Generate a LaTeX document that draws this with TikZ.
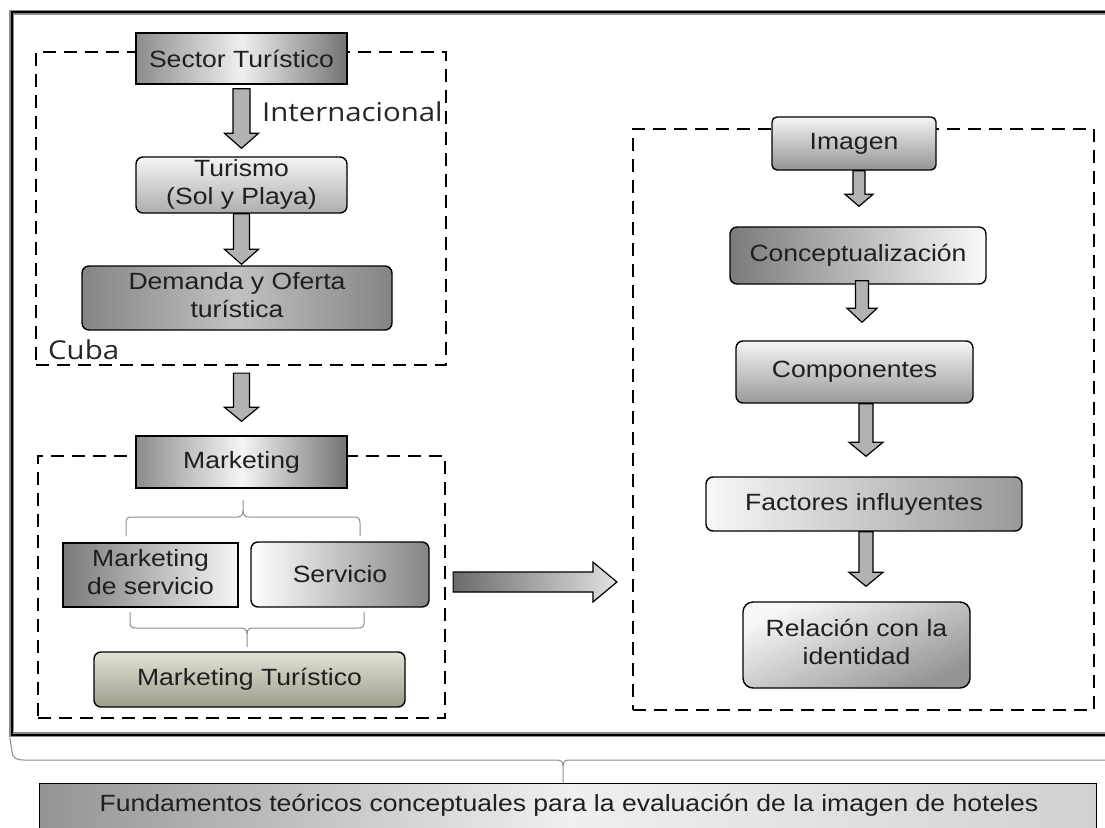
\documentclass[tikz,border=0pt]{standalone}
\usepackage{fontspec}
\setmainfont{Liberation Sans}
\newfontfamily\osans{Open Sans}
\usepackage{graphicx}
\usetikzlibrary{calc}
\newcommand{\wt}[1]{\scalebox{1.13}[1]{#1}}
\newcommand{\wtt}[2]{\scalebox{1.13}[1]{\begin{tabular}{@{}c@{}}#1\\#2\end{tabular}}}
\newcommand{\varrow}[5]{%
  \draw[barrow] let \p1=(#1), \p2=(#2) in
    (\x1-#3pt,\y1) -- (\x1-#3pt,\y2+#5pt) -- (\x1-#4pt,\y2+#5pt) -- (\x1,\y2)
    -- (\x1+#4pt,\y2+#5pt) -- (\x1+#3pt,\y2+#5pt) -- (\x1+#3pt,\y1) -- cycle;}
\newcommand{\harrow}[5]{%
  \draw[barrow,left color=black!58,right color=black!12] let \p1=(#1), \p2=(#2) in
    (\x1,\y1+#3pt) -- (\x2-#5pt,\y1+#3pt) -- (\x2-#5pt,\y1+#4pt) -- (\x2,\y1)
    -- (\x2-#5pt,\y1-#4pt) -- (\x2-#5pt,\y1-#3pt) -- (\x1,\y1-#3pt) -- cycle;}
\begin{document}
\begin{tikzpicture}[x=1pt,y=-1pt,
  box/.style={draw=black, line width=1.4pt, inner sep=0pt, align=center,
    font=\fontsize{23.5}{28}\selectfont, text=black!88},
  rbox/.style={box, rounded corners=7pt},
  dashbox/.style={draw=black, line width=2.2pt, dash pattern=on 13pt off 8pt, inner sep=0pt},
  barrow/.style={draw=black, line width=1.2pt, fill=black!30, line join=miter},
  bracel/.style={draw=black!45, line width=1pt},
  lbl/.style={font=\osans\fontsize{26}{30}\selectfont, text=black!85, inner sep=0pt, anchor=west},
]
\useasboundingbox (0,0) rectangle (1105,827);
\clip (0,0) rectangle (1105,827);
\fill[white] (0,0) rectangle (1105,827);

% outer frame
\draw[black!45, line width=5pt] (11.5,12) rectangle (1125,734.5);
\draw[black, line width=2pt] (11.5,12) rectangle (1125,734.5);

% dashed groups
\node[dashbox, minimum width=410pt, minimum height=313pt] (cubabox) at (241,208.5) {};
\node[dashbox, minimum width=407pt, minimum height=262pt] (mktbox) at (241.5,587) {};
\node[dashbox, minimum width=461pt, minimum height=581pt] (imgbox) at (863.5,419.5) {};

% left column
\node[box, minimum width=211pt, minimum height=51pt,
  left color=black!45, right color=black!55, middle color=black!6] (sector) at (241.5,58.5) {\wt{Sector Turístico}};
\node[rbox, minimum width=211pt, minimum height=54pt,
  top color=black!4, bottom color=black!32] (turismo) at (241.5,185) {\wtt{Turismo}{(Sol y Playa)}};
\node[rbox, minimum width=310pt, minimum height=64pt,
  left color=black!48, right color=black!48, middle color=black!24] (demanda) at (237,298) {\wtt{Demanda y Oferta}{turística}};
\node[lbl] (internac) at (262,112) {\wt{Internacional}};
\node[lbl] (cuba) at (48,350) {\wt{Cuba}};

\node[box, minimum width=211pt, minimum height=52pt,
  left color=black!45, right color=black!55, middle color=black!4] (marketing) at (241.5,462) {\wt{Marketing}};
\node[box, minimum width=175pt, minimum height=64pt,
  left color=black!52, right color=black!4] (mserv) at (150.5,575) {\wtt{Marketing}{de servicio}};
\node[rbox, minimum width=178pt, minimum height=65pt,
  left color=white, right color=black!48] (servicio) at (340,574.5) {\wt{Servicio}};
\node[rbox, minimum width=311pt, minimum height=55pt,
  top color={rgb,255:red,228;green,226;blue,214}, bottom color={rgb,255:red,160;green,156;blue,140}] (mtur) at (249.5,679.5) {\wt{Marketing Turístico}};

% right column
\node[rbox, rounded corners=5pt, minimum width=164pt, minimum height=53pt,
  top color=black!4, bottom color=black!42] (imagen) at (854,143.5) {\wt{Imagen}};
\node[rbox, minimum width=256pt, minimum height=57pt,
  left color=black!52, right color=black!2] (concept) at (858,255.5) {\wt{Conceptualización}};
\node[rbox, minimum width=237pt, minimum height=62pt,
  top color=black!4, bottom color=black!40] (compon) at (854.5,372) {\wt{Componentes}};
\node[rbox, minimum width=316pt, minimum height=54pt,
  left color=black!3, right color=black!40] (factores) at (864,504) {\wt{Factores influyentes}};
\node[rbox, rounded corners=10pt, minimum width=227pt, minimum height=86pt,
  top color=black!3, bottom color=black!42, shading angle=25] (relacion) at (856.5,645) {\wtt{Relación con la}{identidad}};

% bottom box
\node[box, minimum width=1057pt, minimum height=52pt, anchor=north west,
  left color=black!42, right color=black!18, middle color=black!6] (fund) at (39,783) {};
\node[font=\fontsize{23.5}{28}\selectfont, text=black!88, inner sep=0pt] (fundtxt) at (569,805) {\wt{Fundamentos teóricos conceptuales para la evaluación de la imagen de hoteles}};

% arrow end points
\coordinate (a1s) at ($(sector.south)+(0,4)$);
\coordinate (a1t) at ($(turismo.north)+(0,-8)$);
\coordinate (a2s) at ($(turismo.south)+(0,0)$);
\coordinate (a2t) at ($(demanda.north)+(4.5,-1)$);
\coordinate (a3s) at ($(cubabox.south)+(0.5,7)$);
\coordinate (a3t) at ($(marketing.north)+(0,-14)$);
\coordinate (b1s) at ($(imagen.south)+(5,0)$);
\coordinate (b1t) at ($(concept.north)+(1,-20)$);
\coordinate (b2s) at ($(concept.south)+(4,-4)$);
\coordinate (b2t) at ($(compon.north)+(7.5,-18)$);
\coordinate (b3s) at ($(compon.south)+(11.5,0)$);
\coordinate (b3t) at ($(factores.north)+(2,-20)$);
\coordinate (b4s) at ($(factores.south)+(2,0)$);
\coordinate (b4t) at ($(relacion.north)+(9.5,-15)$);
\coordinate (hs) at ($(mktbox.east)+(7,-5)$);
\coordinate (ht) at ($(imgbox.west)+(-15,0)$);

\varrow{a1s}{a1t}{8.5}{17}{15}
\varrow{a2s}{a2t}{8}{17}{15}
\varrow{a3s}{a3t}{8}{17}{14}
\varrow{b1s}{b1t}{6}{14}{12}
\varrow{b2s}{b2t}{6.5}{15}{14}
\varrow{b3s}{b3t}{7}{17}{14}
\varrow{b4s}{b4t}{7}{17}{14}
\harrow{hs}{ht}{10}{20}{24}

% braces
\draw[bracel] (126,536) -- (126,523) .. controls (126,518) and (128,517) .. (132,517) -- (237,517)
  .. controls (241,517) and (243,515) .. (243,511) -- (243,500);
\draw[bracel] (360,536) -- (360,523) .. controls (360,518) and (358,517) .. (354,517) -- (249,517)
  .. controls (245,517) and (243,515) .. (243,511);
\draw[bracel] (130,612) -- (130,623) .. controls (130,627) and (132,628) .. (136,628) -- (241,628)
  .. controls (245,628) and (247,630) .. (247,634) -- (247,647);
\draw[bracel] (364,612) -- (364,623) .. controls (364,627) and (362,628) .. (358,628) -- (253,628)
  .. controls (249,628) and (247,630) .. (247,634);
\draw[bracel] (10,738) -- (12,752) .. controls (13,758) and (16,760) .. (24,760) -- (557,760)
  .. controls (561,760) and (563,762) .. (563,766) -- (563,783);
\draw[bracel] (1120,760) -- (569,760) .. controls (565,760) and (563,762) .. (563,766);
\end{tikzpicture}
\end{document}
